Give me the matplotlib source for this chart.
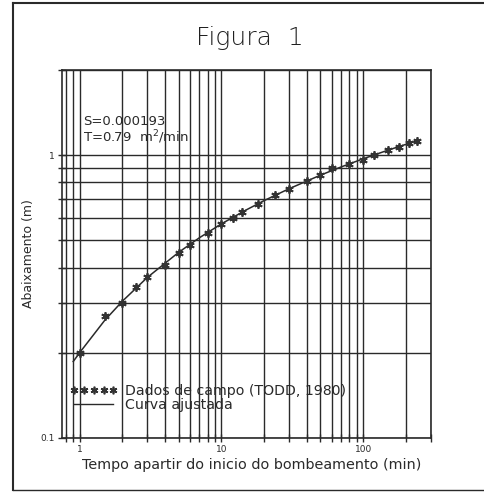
import matplotlib
matplotlib.use("Agg")
import matplotlib.pyplot as plt
from matplotlib.ticker import LogLocator, FixedLocator, FixedFormatter, NullFormatter
from matplotlib.lines import Line2D

# Field data (TODD, 1980)
t_data = [1, 1.5, 2, 2.5, 3, 4, 5, 6, 8, 10, 12, 14, 18, 24, 30, 40, 50, 60, 80, 100, 120, 150, 180, 210, 240]
s_data = [0.20, 0.27, 0.30, 0.34, 0.37, 0.41, 0.45, 0.48, 0.53, 0.57, 0.60, 0.63, 0.67, 0.72, 0.76, 0.81,
          0.85, 0.90, 0.93, 0.96, 1.00, 1.04, 1.07, 1.10, 1.12]

# Fitted curve
t_curve = [0.9, 1, 1.5, 2, 3, 5, 7, 10, 15, 20, 30, 50, 70, 100, 150, 200, 250]
s_curve = [0.186, 0.200, 0.260, 0.304, 0.369, 0.453, 0.510, 0.571, 0.640, 0.690, 0.760, 0.849, 0.908,
           0.970, 1.041, 1.091, 1.130]

title = "Figura  1"
xlabel = "Tempo apartir do inicio do bombeamento (min)"
ylabel = "Abaixamento (m)"
note = "S=0.000193\nT=0.79  m$^2$/min"
legend_labels = ["Dados de campo (TODD, 1980)", "Curva ajustada"]

ink = "#2a2a2a"
plt.rcParams['font.family'] = ['DejaVu Sans']

fig = plt.figure(figsize=(4.85, 4.92), dpi=100)
ax = fig.add_axes([62/485, 1-437.7/492, (430.7-62)/485, (437.7-70)/492])

ax.set_xscale('log')
ax.set_yscale('log')
ax.set_xlim(0.75, 300)
ax.set_ylim(0.1, 2.0)

star = (6, 2, 0)
ax.plot(t_curve, s_curve, color=ink, lw=1.1, zorder=3)
ax.plot(t_data, s_data, ls='none', marker=star, ms=6, mew=1.3, color='#333333', zorder=4)

ax.xaxis.set_major_locator(FixedLocator([1, 10, 100]))
ax.xaxis.set_major_formatter(FixedFormatter(["1", "10", "100"]))
ax.xaxis.set_minor_locator(LogLocator(base=10, subs=range(2, 10)))
ax.xaxis.set_minor_formatter(NullFormatter())
ax.yaxis.set_major_locator(FixedLocator([0.1, 1]))
ax.yaxis.set_major_formatter(FixedFormatter(["0.1", "1"]))
ax.yaxis.set_minor_locator(LogLocator(base=10, subs=range(2, 10)))
ax.yaxis.set_minor_formatter(NullFormatter())

ax.grid(True, which='both', color=ink, lw=1.0)
ax.set_axisbelow(True)
for sp in ax.spines.values():
    sp.set_color(ink)
    sp.set_linewidth(1.2)
ax.tick_params(which='both', direction='inout', length=6, width=1.0, color=ink, labelsize=6.5,
               pad=2, labelcolor=ink)

ax.set_xlabel(xlabel, fontsize=10.4, color=ink, labelpad=2)
ax.xaxis.set_label_coords(0.515, -0.055)
ax.set_ylabel(ylabel, fontsize=9, color=ink)
ax.yaxis.set_label_coords(-0.073, 0.5)

ax.text(0.058, 0.835, note, transform=ax.transAxes, fontsize=9.5, color=ink, va='center', linespacing=1.0)

handles = [Line2D([], [], ls='none', marker=star, ms=5.5, mew=1.2, color='#333333'),
           Line2D([], [], color=ink, lw=1.0)]
leg = ax.legend(handles, legend_labels, loc='lower left', bbox_to_anchor=(0.005, 0.055), frameon=False,
                numpoints=5, handlelength=3.4, handletextpad=0.5, labelspacing=0.0, fontsize=10.2,
                borderaxespad=0)
for txt in leg.get_texts():
    txt.set_color(ink)

fig.text(0.515, 1-38/492, title, ha='center', va='center', fontsize=18, color='#202020',
         fontweight='light')

# outer frame
fig.add_artist(Line2D([13/485, 13/485], [1-3/492, 1-490/492], transform=fig.transFigure, color=ink, lw=1.5))
fig.add_artist(Line2D([13/485, 1], [1-3/492, 1-3/492], transform=fig.transFigure, color=ink, lw=1.5))
fig.add_artist(Line2D([13/485, 1], [1-490/492, 1-490/492], transform=fig.transFigure, color=ink, lw=1.0))

fig.savefig("out.png", dpi=100, facecolor='white')
